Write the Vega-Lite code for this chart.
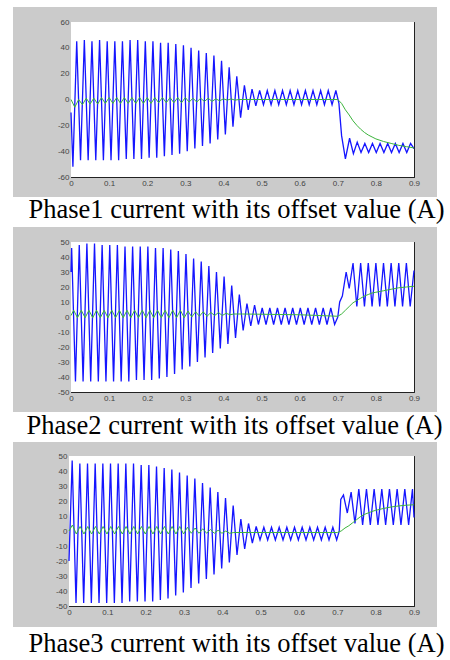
{
"$schema":"https://vega.github.io/schema/vega-lite/v6.json",
"padding":{"left":13,"top":7,"right":0,"bottom":0},
"background":"white",
"bounds":"flush",
"spacing":30,
"config":{
 "view":{"fill":"#cbcbcb","stroke":null},
 "axis":{"labelFont":"Liberation Sans","labelFontSize":8,"labelColor":"#444","domainColor":"#222","tickColor":"#222","tickSize":-3,"labelPadding":5,"zindex":1,"grid":false,"labelFlush":false,"labelOverlap":false,"domainWidth":1,"tickWidth":1,
  "titleFont":"Liberation Serif","titleFontSize":26.5,"titleFontWeight":"normal","titleColor":"#000","titleBaseline":"alphabetic","titleAlign":"center"}
},
"datasets":{
"b1":[{"t":0,"v":-10},{"t":0.005,"v":-52},{"t":0.015,"v":45},{"t":0.025,"v":-47},{"t":0.035,"v":46},{"t":0.045,"v":-47},{"t":0.055,"v":45},{"t":0.065,"v":-47},{"t":0.075,"v":46},{"t":0.085,"v":-47},{"t":0.095,"v":45},{"t":0.105,"v":-47},{"t":0.115,"v":45},{"t":0.125,"v":-47},{"t":0.135,"v":45},{"t":0.145,"v":-46},{"t":0.155,"v":46},{"t":0.165,"v":-46},{"t":0.175,"v":46},{"t":0.185,"v":-46},{"t":0.195,"v":45},{"t":0.205,"v":-45},{"t":0.215,"v":45},{"t":0.225,"v":-45},{"t":0.235,"v":44},{"t":0.245,"v":-44},{"t":0.255,"v":44},{"t":0.265,"v":-43},{"t":0.275,"v":43},{"t":0.285,"v":-42},{"t":0.295,"v":42},{"t":0.305,"v":-40},{"t":0.315,"v":40},{"t":0.325,"v":-38},{"t":0.335,"v":38},{"t":0.345,"v":-36},{"t":0.355,"v":36},{"t":0.365,"v":-34},{"t":0.375,"v":34},{"t":0.385,"v":-31},{"t":0.395,"v":30},{"t":0.405,"v":-27},{"t":0.415,"v":25},{"t":0.425,"v":-21},{"t":0.435,"v":18},{"t":0.445,"v":-14},{"t":0.455,"v":11},{"t":0.465,"v":-8},{"t":0.475,"v":8},{"t":0.485,"v":-5},{"t":0.495,"v":7},{"t":0.505,"v":-4},{"t":0.515,"v":7},{"t":0.525,"v":-4},{"t":0.535,"v":7},{"t":0.545,"v":-4},{"t":0.555,"v":7},{"t":0.565,"v":-4},{"t":0.575,"v":7},{"t":0.585,"v":-4},{"t":0.595,"v":7},{"t":0.605,"v":-4},{"t":0.615,"v":7},{"t":0.625,"v":-4},{"t":0.635,"v":7},{"t":0.645,"v":-4},{"t":0.655,"v":7},{"t":0.665,"v":-4},{"t":0.675,"v":7},{"t":0.685,"v":-4},{"t":0.695,"v":7},{"t":0.703,"v":-3},{"t":0.71,"v":-28},{"t":0.72,"v":-46},{"t":0.731,"v":-30},{"t":0.741,"v":-42},{"t":0.751,"v":-33},{"t":0.761,"v":-41},{"t":0.771,"v":-34},{"t":0.781,"v":-41},{"t":0.791,"v":-34},{"t":0.801,"v":-41},{"t":0.811,"v":-34},{"t":0.821,"v":-41},{"t":0.831,"v":-34},{"t":0.841,"v":-41},{"t":0.851,"v":-34},{"t":0.861,"v":-41},{"t":0.871,"v":-34},{"t":0.881,"v":-41},{"t":0.891,"v":-34},{"t":0.9,"v":-38}],
"g1":[{"t":0,"v":0},{"t":0.01,"v":-6},{"t":0.02,"v":0},{"t":0.03,"v":-4},{"t":0.04,"v":1},{"t":0.05,"v":-3.5},{"t":0.06,"v":1},{"t":0.07,"v":-3.5},{"t":0.08,"v":1.5},{"t":0.09,"v":-3},{"t":0.1,"v":1.5},{"t":0.11,"v":-3},{"t":0.12,"v":1.5},{"t":0.13,"v":-3},{"t":0.14,"v":1.5},{"t":0.15,"v":-3},{"t":0.16,"v":1.5},{"t":0.17,"v":-3},{"t":0.18,"v":1.5},{"t":0.19,"v":-3},{"t":0.2,"v":1.5},{"t":0.21,"v":-3},{"t":0.22,"v":1.5},{"t":0.23,"v":-2.5},{"t":0.24,"v":1.5},{"t":0.25,"v":-2.5},{"t":0.26,"v":1.5},{"t":0.27,"v":-2.5},{"t":0.28,"v":1.5},{"t":0.29,"v":-2.5},{"t":0.3,"v":1.5},{"t":0.31,"v":-2},{"t":0.32,"v":1},{"t":0.33,"v":-2},{"t":0.34,"v":1},{"t":0.35,"v":-1.5},{"t":0.36,"v":1},{"t":0.37,"v":-1.5},{"t":0.38,"v":0.5},{"t":0.39,"v":-1},{"t":0.4,"v":0.5},{"t":0.41,"v":-0.5},{"t":0.42,"v":0.5},{"t":0.43,"v":-0.5},{"t":0.44,"v":0},{"t":0.7,"v":0},{"t":0.71,"v":-3},{"t":0.72,"v":-8},{"t":0.73,"v":-12},{"t":0.74,"v":-16.5},{"t":0.75,"v":-20},{"t":0.76,"v":-23},{"t":0.77,"v":-25.5},{"t":0.78,"v":-27.5},{"t":0.79,"v":-29},{"t":0.8,"v":-30.5},{"t":0.82,"v":-32.5},{"t":0.84,"v":-34},{"t":0.86,"v":-35.5},{"t":0.88,"v":-36.5},{"t":0.9,"v":-37.5}],
"b2":[{"t":0,"v":30},{"t":0.0017,"v":46},{"t":0.0117,"v":-43},{"t":0.0217,"v":48},{"t":0.0317,"v":-43},{"t":0.0417,"v":49},{"t":0.0517,"v":-43},{"t":0.0617,"v":49},{"t":0.0717,"v":-43},{"t":0.0817,"v":48},{"t":0.0917,"v":-43},{"t":0.1017,"v":48},{"t":0.1117,"v":-43},{"t":0.1217,"v":48},{"t":0.1317,"v":-43},{"t":0.1417,"v":47},{"t":0.1517,"v":-43},{"t":0.1617,"v":47},{"t":0.1717,"v":-42},{"t":0.1817,"v":47},{"t":0.1917,"v":-42},{"t":0.2017,"v":47},{"t":0.2117,"v":-42},{"t":0.2217,"v":46},{"t":0.2317,"v":-41},{"t":0.2417,"v":46},{"t":0.2517,"v":-40},{"t":0.2617,"v":45},{"t":0.2717,"v":-38},{"t":0.2817,"v":44},{"t":0.2917,"v":-35},{"t":0.3017,"v":42},{"t":0.3117,"v":-33},{"t":0.3217,"v":39},{"t":0.3317,"v":-30},{"t":0.3417,"v":37},{"t":0.3517,"v":-27},{"t":0.3617,"v":34},{"t":0.3717,"v":-24},{"t":0.3817,"v":30},{"t":0.3917,"v":-21},{"t":0.4017,"v":27},{"t":0.4117,"v":-18},{"t":0.4217,"v":21},{"t":0.4317,"v":-14},{"t":0.4417,"v":15},{"t":0.4517,"v":-9},{"t":0.4617,"v":9},{"t":0.4717,"v":-6},{"t":0.4817,"v":8},{"t":0.4917,"v":-5},{"t":0.5017,"v":6},{"t":0.5117,"v":-5},{"t":0.5217,"v":6},{"t":0.5317,"v":-5},{"t":0.5417,"v":6},{"t":0.5517,"v":-5},{"t":0.5617,"v":6},{"t":0.5717,"v":-5},{"t":0.5817,"v":6},{"t":0.5917,"v":-5},{"t":0.6017,"v":6},{"t":0.6117,"v":-5},{"t":0.6217,"v":6},{"t":0.6317,"v":-5},{"t":0.6417,"v":6},{"t":0.6517,"v":-5},{"t":0.6617,"v":6},{"t":0.6717,"v":-5},{"t":0.6817,"v":6},{"t":0.6917,"v":-5},{"t":0.7,"v":0},{"t":0.705,"v":10},{"t":0.712,"v":14},{"t":0.722,"v":30},{"t":0.73,"v":19},{"t":0.74,"v":36},{"t":0.75,"v":7},{"t":0.76,"v":36},{"t":0.77,"v":7},{"t":0.78,"v":36},{"t":0.79,"v":7},{"t":0.8,"v":36},{"t":0.81,"v":7},{"t":0.82,"v":36},{"t":0.83,"v":7},{"t":0.84,"v":36},{"t":0.85,"v":7},{"t":0.86,"v":36},{"t":0.87,"v":7},{"t":0.88,"v":36},{"t":0.89,"v":7},{"t":0.9,"v":31}],
"g2":[{"t":0,"v":1},{"t":0.007,"v":4.5},{"t":0.017,"v":-0.5},{"t":0.027,"v":4.5},{"t":0.037,"v":-0.5},{"t":0.047,"v":4.5},{"t":0.057,"v":-0.5},{"t":0.067,"v":4.5},{"t":0.077,"v":-0.5},{"t":0.087,"v":4.5},{"t":0.097,"v":-0.5},{"t":0.107,"v":4.5},{"t":0.117,"v":-0.5},{"t":0.127,"v":4.5},{"t":0.137,"v":-0.5},{"t":0.147,"v":4.5},{"t":0.157,"v":-0.5},{"t":0.167,"v":4.5},{"t":0.177,"v":-0.5},{"t":0.187,"v":4.5},{"t":0.197,"v":-0.5},{"t":0.207,"v":4.5},{"t":0.217,"v":-0.5},{"t":0.227,"v":4.5},{"t":0.237,"v":-0.5},{"t":0.247,"v":4.5},{"t":0.257,"v":-0.5},{"t":0.267,"v":4.5},{"t":0.277,"v":-0.5},{"t":0.287,"v":4.5},{"t":0.297,"v":-0.5},{"t":0.307,"v":4},{"t":0.317,"v":0},{"t":0.327,"v":3.5},{"t":0.337,"v":0.5},{"t":0.347,"v":3.5},{"t":0.357,"v":0.5},{"t":0.367,"v":3},{"t":0.377,"v":1},{"t":0.387,"v":3},{"t":0.397,"v":1},{"t":0.407,"v":2.5},{"t":0.417,"v":1.5},{"t":0.427,"v":2},{"t":0.45,"v":2},{"t":0.6,"v":1.5},{"t":0.7,"v":0.5},{"t":0.71,"v":2},{"t":0.72,"v":4.5},{"t":0.73,"v":7},{"t":0.74,"v":9.5},{"t":0.75,"v":11},{"t":0.76,"v":12.5},{"t":0.77,"v":14},{"t":0.78,"v":15},{"t":0.79,"v":16},{"t":0.8,"v":16.5},{"t":0.82,"v":17.5},{"t":0.84,"v":18.5},{"t":0.86,"v":19.5},{"t":0.88,"v":20},{"t":0.9,"v":20.5}],
"b3":[{"t":0,"v":-20},{"t":0.0083,"v":47},{"t":0.0183,"v":-48},{"t":0.0283,"v":45},{"t":0.0383,"v":-48},{"t":0.0483,"v":45},{"t":0.0583,"v":-48},{"t":0.0683,"v":45},{"t":0.0783,"v":-48},{"t":0.0883,"v":45},{"t":0.0983,"v":-48},{"t":0.1083,"v":45},{"t":0.1183,"v":-48},{"t":0.1283,"v":45},{"t":0.1383,"v":-48},{"t":0.1483,"v":45},{"t":0.1583,"v":-47},{"t":0.1683,"v":45},{"t":0.1783,"v":-47},{"t":0.1883,"v":44},{"t":0.1983,"v":-47},{"t":0.2083,"v":44},{"t":0.2183,"v":-47},{"t":0.2283,"v":43},{"t":0.2383,"v":-46},{"t":0.2483,"v":42},{"t":0.2583,"v":-45},{"t":0.2683,"v":41},{"t":0.2783,"v":-43},{"t":0.2883,"v":39},{"t":0.2983,"v":-41},{"t":0.3083,"v":37},{"t":0.3183,"v":-38},{"t":0.3283,"v":35},{"t":0.3383,"v":-35},{"t":0.3483,"v":32},{"t":0.3583,"v":-32},{"t":0.3683,"v":29},{"t":0.3783,"v":-29},{"t":0.3883,"v":26},{"t":0.3983,"v":-25},{"t":0.4083,"v":22},{"t":0.4183,"v":-21},{"t":0.4283,"v":17},{"t":0.4383,"v":-16},{"t":0.4483,"v":8},{"t":0.4583,"v":-12},{"t":0.4683,"v":5},{"t":0.4783,"v":-8},{"t":0.4883,"v":3},{"t":0.4983,"v":-6},{"t":0.5083,"v":2.5},{"t":0.5183,"v":-6},{"t":0.5283,"v":2.5},{"t":0.5383,"v":-6},{"t":0.5483,"v":2.5},{"t":0.5583,"v":-6},{"t":0.5683,"v":2.5},{"t":0.5783,"v":-6},{"t":0.5883,"v":2.5},{"t":0.5983,"v":-6},{"t":0.6083,"v":2.5},{"t":0.6183,"v":-6},{"t":0.6283,"v":2.5},{"t":0.6383,"v":-6},{"t":0.6483,"v":2.5},{"t":0.6583,"v":-6},{"t":0.6683,"v":2.5},{"t":0.6783,"v":-6},{"t":0.6883,"v":2.5},{"t":0.6983,"v":-6},{"t":0.705,"v":0},{"t":0.709,"v":21},{"t":0.716,"v":24},{"t":0.726,"v":12},{"t":0.736,"v":26},{"t":0.746,"v":5},{"t":0.756,"v":28},{"t":0.766,"v":4},{"t":0.776,"v":28},{"t":0.786,"v":4},{"t":0.796,"v":28},{"t":0.806,"v":4},{"t":0.816,"v":28},{"t":0.826,"v":4},{"t":0.836,"v":28},{"t":0.846,"v":4},{"t":0.856,"v":28},{"t":0.866,"v":4},{"t":0.876,"v":28},{"t":0.886,"v":4},{"t":0.896,"v":28},{"t":0.9,"v":9}],
"g3":[{"t":0,"v":0},{"t":0.009,"v":4},{"t":0.019,"v":-2},{"t":0.029,"v":3},{"t":0.039,"v":-2},{"t":0.049,"v":3},{"t":0.059,"v":-2},{"t":0.069,"v":3},{"t":0.079,"v":-2},{"t":0.089,"v":3},{"t":0.099,"v":-2},{"t":0.109,"v":3},{"t":0.119,"v":-2},{"t":0.129,"v":3},{"t":0.139,"v":-2},{"t":0.149,"v":3},{"t":0.159,"v":-2},{"t":0.169,"v":3},{"t":0.179,"v":-2},{"t":0.189,"v":3},{"t":0.199,"v":-2},{"t":0.209,"v":3},{"t":0.219,"v":-2},{"t":0.229,"v":3},{"t":0.239,"v":-2},{"t":0.249,"v":3},{"t":0.259,"v":-2},{"t":0.269,"v":3},{"t":0.279,"v":-2},{"t":0.289,"v":3},{"t":0.299,"v":-2},{"t":0.309,"v":2.5},{"t":0.319,"v":-1.5},{"t":0.329,"v":2},{"t":0.339,"v":-1.5},{"t":0.349,"v":1.5},{"t":0.359,"v":-1.5},{"t":0.369,"v":1},{"t":0.379,"v":-1.5},{"t":0.389,"v":0.5},{"t":0.399,"v":-1.5},{"t":0.409,"v":0},{"t":0.419,"v":-1.5},{"t":0.43,"v":-1},{"t":0.7,"v":-1},{"t":0.71,"v":0},{"t":0.72,"v":2},{"t":0.73,"v":3.5},{"t":0.74,"v":5.5},{"t":0.75,"v":7.5},{"t":0.76,"v":9.5},{"t":0.77,"v":11},{"t":0.78,"v":12},{"t":0.79,"v":13},{"t":0.8,"v":13.8},{"t":0.82,"v":15},{"t":0.84,"v":16},{"t":0.86,"v":16.7},{"t":0.88,"v":17.2},{"t":0.9,"v":17.5}]
},
"vconcat":[
{"width":424,"height":190,"layer":[
 {"data":{"values":[{}]},"mark":{"type":"rect","fill":"white"},
  "encoding":{
   "x":{"datum":0,"type":"quantitative","scale":{"domain":[0,0.9],"range":[58,401],"nice":false,"zero":false},
        "axis":{"orient":"bottom","offset":-20,"values":[0,0.1,0.2,0.3,0.4,0.5,0.6,0.7,0.8,0.9],"labelExpr":"'' + datum.value","title":"Phase1 current with its offset value (A)","titleX":223,"titleY":40}},
   "x2":{"datum":0.9},
   "y":{"datum":-60,"type":"quantitative","scale":{"domain":[-60,60],"range":[170,15],"nice":false,"zero":false},
        "axis":{"orient":"left","offset":-58,"values":[-60,-40,-20,0,20,40,60],"labelExpr":"'' + datum.value","title":null}},
   "y2":{"datum":60}}},
 {"data":{"name":"b1"},"mark":{"type":"line","color":"#1515ff","strokeWidth":1.3},
  "encoding":{
   "x":{"field":"t","type":"quantitative","axis":{"orient":"top","offset":-15,"labels":false,"values":[0,0.1,0.2,0.3,0.4,0.5,0.6,0.7,0.8,0.9],"title":null}},
   "y":{"field":"v","type":"quantitative","axis":{"orient":"right","offset":-23,"labels":false,"values":[-60,-40,-20,0,20,40,60],"title":null}}}},
 {"data":{"name":"g1"},"mark":{"type":"line","color":"#3cb43c","strokeWidth":1},
  "encoding":{"x":{"field":"t","type":"quantitative","axis":null},"y":{"field":"v","type":"quantitative","axis":null}}}
]},
{"width":424,"height":185,"layer":[
 {"data":{"values":[{}]},"mark":{"type":"rect","fill":"white"},
  "encoding":{
   "x":{"datum":0,"type":"quantitative","scale":{"domain":[0,0.9],"range":[58,401],"nice":false,"zero":false},
        "axis":{"orient":"bottom","offset":-20,"values":[0,0.1,0.2,0.3,0.4,0.5,0.6,0.7,0.8,0.9],"labelExpr":"'' + datum.value","title":"Phase2 current with its offset value (A)","titleX":221,"titleY":41}},
   "x2":{"datum":0.9},
   "y":{"datum":-50,"type":"quantitative","scale":{"domain":[-50,50],"range":[165,15],"nice":false,"zero":false},
        "axis":{"orient":"left","offset":-58,"values":[-50,-40,-30,-20,-10,0,10,20,30,40,50],"labelExpr":"'' + datum.value","title":null}},
   "y2":{"datum":50}}},
 {"data":{"name":"b2"},"mark":{"type":"line","color":"#1515ff","strokeWidth":1.3},
  "encoding":{
   "x":{"field":"t","type":"quantitative","axis":{"orient":"top","offset":-15,"labels":false,"values":[0,0.1,0.2,0.3,0.4,0.5,0.6,0.7,0.8,0.9],"title":null}},
   "y":{"field":"v","type":"quantitative","axis":{"orient":"right","offset":-23,"labels":false,"values":[-50,-40,-30,-20,-10,0,10,20,30,40,50],"title":null}}}},
 {"data":{"name":"g2"},"mark":{"type":"line","color":"#3cb43c","strokeWidth":1},
  "encoding":{"x":{"field":"t","type":"quantitative","axis":null},"y":{"field":"v","type":"quantitative","axis":null}}}
]},
{"width":424,"height":185,"layer":[
 {"data":{"values":[{}]},"mark":{"type":"rect","fill":"white"},
  "encoding":{
   "x":{"datum":0,"type":"quantitative","scale":{"domain":[0,0.9],"range":[56,401],"nice":false,"zero":false},
        "axis":{"orient":"bottom","offset":-21,"values":[0,0.1,0.2,0.3,0.4,0.5,0.6,0.7,0.8,0.9],"labelExpr":"'' + datum.value","title":"Phase3 current with its offset value (A)","titleX":223,"titleY":45}},
   "x2":{"datum":0.9},
   "y":{"datum":-50,"type":"quantitative","scale":{"domain":[-50,50],"range":[164,14],"nice":false,"zero":false},
        "axis":{"orient":"left","offset":-56,"values":[-50,-40,-30,-20,-10,0,10,20,30,40,50],"labelExpr":"'' + datum.value","title":null}},
   "y2":{"datum":50}}},
 {"data":{"name":"b3"},"mark":{"type":"line","color":"#1515ff","strokeWidth":1.3},
  "encoding":{
   "x":{"field":"t","type":"quantitative","axis":{"orient":"top","offset":-14,"labels":false,"values":[0,0.1,0.2,0.3,0.4,0.5,0.6,0.7,0.8,0.9],"title":null}},
   "y":{"field":"v","type":"quantitative","axis":{"orient":"right","offset":-23,"labels":false,"values":[-50,-40,-30,-20,-10,0,10,20,30,40,50],"title":null}}}},
 {"data":{"name":"g3"},"mark":{"type":"line","color":"#3cb43c","strokeWidth":1},
  "encoding":{"x":{"field":"t","type":"quantitative","axis":null},"y":{"field":"v","type":"quantitative","axis":null}}}
]}
]
}
